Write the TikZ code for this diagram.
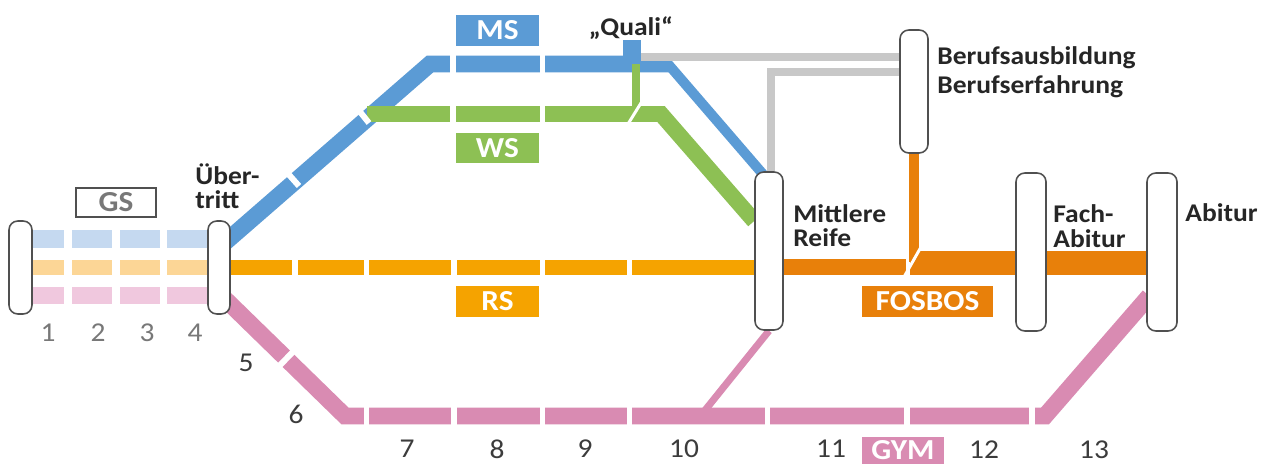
\documentclass[tikz,border=0pt]{standalone}
\usepackage{fontspec}
\setmainfont{Carlito}[FakeStretch=1.08]
\usetikzlibrary{calc}
\definecolor{blueC}{RGB}{91,155,213}
\definecolor{greenC}{RGB}{141,192,84}
\definecolor{rsC}{RGB}{245,163,0}
\definecolor{fosC}{RGB}{232,128,10}
\definecolor{pinkC}{RGB}{217,139,178}
\definecolor{grayC}{RGB}{200,200,200}
\definecolor{gsB}{RGB}{197,217,240}
\definecolor{gsO}{RGB}{252,214,150}
\definecolor{gsP}{RGB}{240,200,222}
\definecolor{barC}{RGB}{80,80,80}
\definecolor{txtC}{RGB}{38,38,38}
\definecolor{numC}{RGB}{60,60,60}
\definecolor{numL}{RGB}{120,120,120}
\pgfdeclarelayer{bg}
\pgfdeclarelayer{lines}
\pgfsetlayers{bg,lines,main}
\tikzset{
  bar/.style={draw=barC, fill=white, rounded corners=5pt, line width=0.9pt, inner sep=0pt},
  lbl/.style={font=\fontsize{14.5}{16}\selectfont\bfseries, text=txtC, inner sep=0pt, align=left},
  num/.style={font=\fontsize{15.5}{17}\selectfont, text=numC, inner sep=0pt},
  tag/.style={font=\fontsize{16.5}{18}\selectfont\bfseries, text=white, inner sep=0pt},
  cut/.style={draw=white, line width=3.4pt},
  thincut/.style={draw=white, line width=1.7pt},
}
\begin{document}
\begin{tikzpicture}[x=0.02cm,y=-0.02cm]
\useasboundingbox (0,0) rectangle (1265,466);
\begin{pgfonlayer}{bg}
\fill[white] (0,0) rectangle (1265,466);
\end{pgfonlayer}

% bars
\node[bar, minimum width=0.46cm, minimum height=1.86cm] (b0) at (20.5,267.5) {};
\node[bar, minimum width=0.44cm, minimum height=1.86cm] (b1) at (219,267.5) {};
\node[bar, minimum width=0.56cm, minimum height=3.16cm] (mr) at (769,251) {};
\node[bar, minimum width=0.56cm, minimum height=2.46cm] (bb) at (914,91.5) {};
\node[bar, minimum width=0.60cm, minimum height=3.16cm] (fa) at (1031,252) {};
\node[bar, minimum width=0.60cm, minimum height=3.16cm] (ab) at (1162,252) {};

% waypoints
\coordinate (bUp) at (430,64);
\coordinate (bEnd) at (672,64);
\coordinate (gStart) at (367,114);
\coordinate (gEnd) at (661,114);
\coordinate (pDown) at (345,416);
\coordinate (pUp) at (1045,416);
\coordinate (pBr) at (702,414);
\coordinate (qTop) at (632,40);
\coordinate (qBot) at (632,66);
\coordinate (fj) at (906,267);
\coordinate (g1) at (641,57);
\coordinate (g2) at (771,72);
\coordinate (gl1) at (636,64);
\coordinate (gl2) at (636,112);

\begin{pgfonlayer}{lines}
% GS stripes
\draw[gsB, line width=10pt] ($(b0.east)+(0,-28.5)$) -- ($(b1.west)+(0,-28.5)$);
\draw[gsO, line width=9pt] (b0.east) -- (b1.west);
\draw[gsP, line width=10pt] ($(b0.east)+(0,28)$) -- ($(b1.west)+(0,28)$);
% RS
\draw[rsC, line width=9.1pt] (b1.east) -- (b1.east -| mr.west);
% FOSBOS
\draw[fosC, line width=9.1pt] (mr.east |- fj) -- (fj);
\draw[fosC, line width=13.6pt] ($(fj)+(4,-4)$) -- ($(fj -| ab.west)+(2,-4)$);
\draw[fosC, line width=5.7pt] (bb.south) -- ($(bb.south |- fj)+(0,-5)$);
\draw[thincut] ($(fj)+(-2,10)$) -- ($(fj)+(15,-20)$);
% MS
\draw[blueC, line width=9.6pt] ($(b1.center)+(3,-22.5)$) -- (bUp) -- (bEnd);
\draw[blueC, line width=5.7pt, line cap=round] ($(bEnd)+(-4,0)$) -- ($(mr.north)+(-6,3)$);
\draw[blueC, line width=10.2pt] (qTop) -- (qBot);
% grey
\draw[grayC, line width=5.1pt] (g1) -- (g1 -| bb.west);
\draw[grayC, line width=5.1pt] (mr.north -| g2) -- (g2) -- (g2 -| bb.west);
% WS
\draw[greenC, line width=9.1pt] (gStart) -- (gEnd) -- ($(mr.west)+(0,-30)$);
\draw[greenC, line width=4pt] (gl1) -- (gl2);
\draw[thincut] (628,124) -- (641,103);
% GYM
\draw[pinkC, line width=9.6pt] ($(b1.center)+(5,30.5)$) -- (pDown) -- (pUp) -- ($(ab.west)+(3,44)$);
\draw[pinkC, line width=4pt] (pBr) -- (mr.south);
% gaps
\foreach \x in {68,116,163.5} \draw[cut, line width=4pt] (\x,226) -- (\x,308);
\foreach \x in {295,366.5,454,542.5,629.5} \draw[cut] (\x,257) -- (\x,278);
\foreach \x in {366.5,454,542.5,629.5,767.5,907,1032} \draw[cut] (\x,405) -- (\x,428);
\foreach \x in {453,542.5} \draw[cut] (\x,52) -- (\x,76);
\foreach \x in {453,542.5} \draw[cut] (\x,102) -- (\x,126);
\draw[cut] (277.6,367.6) -- (294.4,350.4);
\draw[cut] (283,168) -- (299,186);
\draw[cut] (357,108) -- (369,123);
\end{pgfonlayer}

% tags
\node[tag, fill=blueC, minimum width=1.66cm, minimum height=0.62cm] (ms) at (497.5,30.5) {MS};
\node[tag, fill=greenC, minimum width=1.66cm, minimum height=0.60cm] (ws) at (497.5,148) {WS};
\node[tag, fill=rsC, minimum width=1.66cm, minimum height=0.62cm] (rs) at (497.5,301.5) {RS};
\node[tag, fill=fosC, minimum width=2.62cm, minimum height=0.62cm] (fos) at (927.5,301.5) {FOSBOS};
\node[tag, fill=pinkC, minimum width=1.64cm, minimum height=0.54cm] (gym) at (903,450.5) {GYM};
\node[tag, text=numL, draw=barC, line width=0.85pt, minimum width=1.60cm, minimum height=0.58cm] (gs) at (116,202.5) {GS};

% labels
\node[lbl, anchor=west, font=\fontsize{14.5}{13.6}\selectfont\bfseries] (ueb) at (195,186) {Über-\\tritt};
\node[lbl, anchor=center] (quali) at (631,28) {„Quali“};
\node[lbl, anchor=west, font=\fontsize{14.5}{16.4}\selectfont\bfseries] (beruf) at (937,72.5) {Berufsausbildung\\Berufserfahrung};
\node[lbl, anchor=west, font=\fontsize{14.5}{13.8}\selectfont\bfseries] (mrl) at (793,226) {Mittlere\\Reife};
\node[lbl, anchor=west, font=\fontsize{14.5}{14.4}\selectfont\bfseries] (fal) at (1053,226) {Fach-\\Abitur};
\node[lbl, anchor=west] (abl) at (1185,213) {Abitur};

% numbers
\node[num, text=numL] (n1) at (48,333) {1};
\node[num, text=numL] (n2) at (98,333) {2};
\node[num, text=numL] (n3) at (147,333) {3};
\node[num, text=numL] (n4) at (195,333) {4};
\node[num] (n5) at (246,363) {5};
\node[num] (n6) at (296,414) {6};
\node[num] (n7) at (407,449) {7};
\node[num] (n8) at (497,449) {8};
\node[num] (n9) at (585,449) {9};
\node[num] (n10) at (684,449) {10};
\node[num] (n11) at (831,449) {11};
\node[num] (n12) at (984,450) {12};
\node[num] (n13) at (1094,450) {13};
\end{tikzpicture}
\end{document}
